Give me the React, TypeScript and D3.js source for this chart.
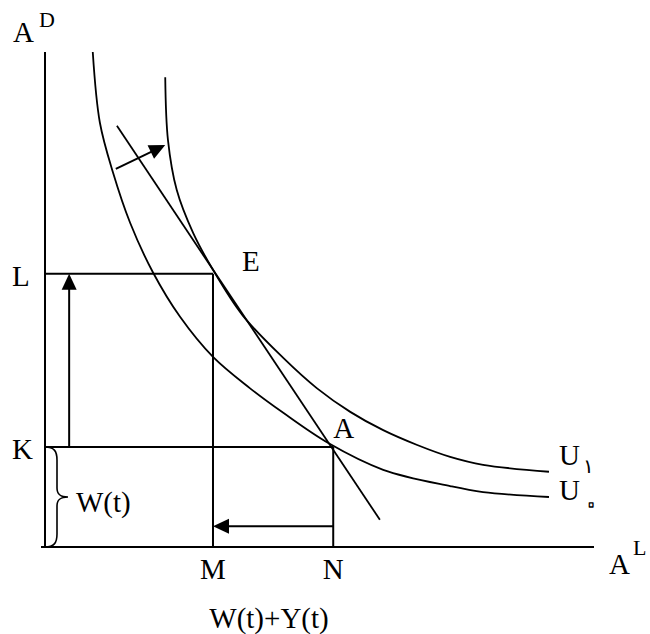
import React from 'react'
import * as d3 from 'd3'

// indifference curves (A^L, A^D units)
const curveU0: [number, number][] = [
  [0.87, 10.0], [1.0, 8.57], [1.24, 7.56], [1.55, 6.55], [1.97, 5.54], [2.46, 4.65],
  [3.06, 3.84], [3.73, 3.21], [4.34, 2.71], [5.16, 2.1], [6.16, 1.56], [7.38, 1.23],
  [7.98, 1.11], [9.18, 1.01],
]
const curveU1: [number, number][] = [
  [2.19, 9.49], [2.24, 8.22], [2.4, 7.21], [2.7, 6.34], [3.06, 5.6], [3.6, 4.68],
  [4.34, 3.82], [4.95, 3.21], [5.56, 2.73], [6.16, 2.36], [6.78, 2.06],
  [7.38, 1.82], [7.98, 1.66], [9.18, 1.52],
]
const budgetLine: [number, number][] = [[1.31, 8.51], [6.1, 0.55]]
const shiftArrow: [number, number][] = [[1.29, 7.64], [2.19, 8.12]]

const pointE = { name: 'E', x: 3.06, y: 5.52 }
const pointA = { name: 'A', x: 5.25, y: 2.02 }
const yMarks = [{ label: 'K', value: 2.02 }, { label: 'L', value: 5.52 }]
const xMarks = [{ label: 'M', value: 3.06 }, { label: 'N', value: 5.25 }]
const curveLabels = [
  { main: 'U', sub: '۱', y: 1.52 },
  { main: 'U', sub: '۰', y: 1.01 },
]
const upArrowX = 0.44
const leftArrowY = 0.42

const width = 650
const height = 634
const font = '"Liberation Serif", "Times New Roman", serif'

const x = d3.scaleLinear().domain([0, 10]).range([45, 594])
const y = d3.scaleLinear().domain([0, 10]).range([547, 52])

const curveLine = d3
  .line<[number, number]>()
  .x((d) => x(d[0]))
  .y((d) => y(d[1]))
  .curve(d3.curveCatmullRom.alpha(0.5))

const straight = d3
  .line<[number, number]>()
  .x((d) => x(d[0]))
  .y((d) => y(d[1]))

function Arrow({ from, to, len = 16, half = 7.5 }) {
  const [x1, y1] = from
  const [x2, y2] = to
  const dx = x2 - x1
  const dy = y2 - y1
  const d = Math.hypot(dx, dy)
  const ux = dx / d
  const uy = dy / d
  const bx = x2 - ux * len
  const by = y2 - uy * len
  const pts = [
    [x2, y2],
    [bx - uy * half, by + ux * half],
    [bx + uy * half, by - ux * half],
  ]
  return (
    <g>
      <line x1={x1} y1={y1} x2={bx + ux} y2={by + uy} stroke="#000" strokeWidth={2} />
      <polygon points={pts.map((p) => p.join(',')).join(' ')} fill="#000" />
    </g>
  )
}

export default function App() {
  const x0 = x(0)
  const yK = y(yMarks[0].value)
  const yBot = y(0)
  const mid = (yK + yBot) / 2
  const brace = `M${x0},${yK} C${x0 + 9},${yK} ${x0 + 12},${yK + 4} ${x0 + 12},${yK + 13}
    L${x0 + 12},${mid - 9} C${x0 + 12},${mid - 2} ${x0 + 16},${mid} ${x0 + 23},${mid}
    C${x0 + 16},${mid} ${x0 + 12},${mid + 2} ${x0 + 12},${mid + 9}
    L${x0 + 12},${yBot - 13} C${x0 + 12},${yBot - 4} ${x0 + 9},${yBot} ${x0},${yBot}`

  return (
    <svg
      width={width}
      height={height}
      style={{ position: 'absolute', left: 0, top: 0, background: '#fff' }}
      fontFamily={font}
    >
      {/* axes */}
      <line x1={x0} y1={y(10)} x2={x0} y2={yBot} stroke="#000" strokeWidth={2} />
      <line x1={x0 - 4} y1={yBot} x2={x(10)} y2={yBot} stroke="#000" strokeWidth={2} />

      {/* guide rectangles */}
      <line x1={x0} y1={y(pointE.y)} x2={x(pointE.x)} y2={y(pointE.y)} stroke="#000" strokeWidth={2} />
      <line x1={x(pointE.x)} y1={y(pointE.y)} x2={x(pointE.x)} y2={yBot} stroke="#000" strokeWidth={2} />
      <line x1={x0} y1={y(pointA.y)} x2={x(pointA.x)} y2={y(pointA.y)} stroke="#000" strokeWidth={2} />
      <line x1={x(pointA.x)} y1={y(pointA.y)} x2={x(pointA.x)} y2={yBot} stroke="#000" strokeWidth={2} />

      {/* curves and budget line */}
      <path d={curveLine(curveU0) ?? ''} fill="none" stroke="#000" strokeWidth={1.8} />
      <path d={curveLine(curveU1) ?? ''} fill="none" stroke="#000" strokeWidth={1.8} />
      <path d={straight(budgetLine) ?? ''} fill="none" stroke="#000" strokeWidth={1.8} />

      {/* arrows */}
      <Arrow from={[x(upArrowX), y(pointA.y)]} to={[x(upArrowX), y(pointE.y)]} />
      <Arrow from={[x(pointA.x), y(leftArrowY)]} to={[x(pointE.x), y(leftArrowY)]} />
      <Arrow from={[x(shiftArrow[0][0]), y(shiftArrow[0][1])]} to={[x(shiftArrow[1][0]), y(shiftArrow[1][1])]} />

      {/* brace */}
      <path d={brace} fill="none" stroke="#000" strokeWidth={1.6} />
      <text x={x0 + 31} y={mid + 15} fontSize={29}>W(t)</text>

      {/* axis titles */}
      <text x={13} y={42} fontSize={29}>A</text>
      <text x={39} y={27} fontSize={22}>D</text>
      <text x={609} y={574} fontSize={29}>A</text>
      <text x={633} y={555} fontSize={22}>L</text>
      <text x={269} y={628} fontSize={29} textAnchor="middle">W(t)+Y(t)</text>

      {yMarks.map((m) => (
        <text key={m.label} x={12} y={y(m.value) + 12} fontSize={29}>{m.label}</text>
      ))}
      {xMarks.map((m) => (
        <text key={m.label} x={x(m.value)} y={yBot + 32} fontSize={29} textAnchor="middle">{m.label}</text>
      ))}

      <text x={x(pointE.x) + 29} y={y(pointE.y) - 3} fontSize={29}>{pointE.name}</text>
      <text x={x(pointA.x)} y={y(pointA.y) - 9} fontSize={29}>{pointA.name}</text>

      {curveLabels.map((c, i) => (
        <g key={i}>
          <text x={x(9.18) + 10} y={y(c.y) + (i === 0 ? -7 : 3)} fontSize={29}>{c.main}</text>
          {i === 0 ? (
            <text x={x(9.18) + 34} y={y(c.y) + 1} fontSize={20} fontFamily="DejaVu Sans">{c.sub}</text>
          ) : (
            <text x={x(9.18) + 33} y={y(c.y) + 17} fontSize={34} fontFamily="DejaVu Sans"
              fill="none" stroke="#000" strokeWidth={1.3} strokeLinejoin="round">{c.sub}</text>
          )}
        </g>
      ))}
    </svg>
  )
}
